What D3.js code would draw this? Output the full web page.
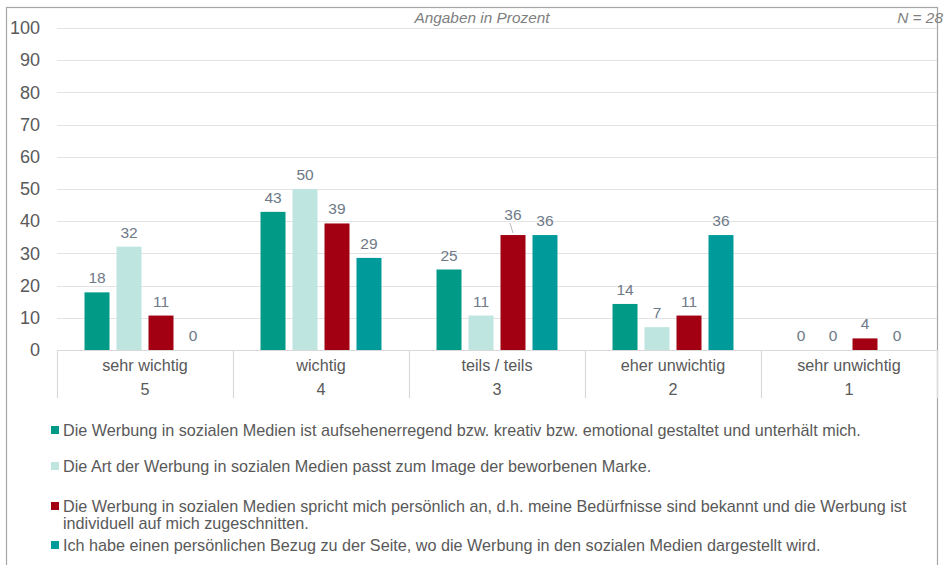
<!DOCTYPE html>
<html>
<head>
<meta charset="utf-8">
<script src="https://cdn.jsdelivr.net/npm/d3@7"></script>
<style>
  body { margin: 0; background: #fff; }
  svg { display: block; font-family: "Liberation Sans", Arial, sans-serif; }
</style>
</head>
<body>
<div id="chart"></div>
<script>
var categories = ['sehr wichtig', 'wichtig', 'teils / teils', 'eher unwichtig', 'sehr unwichtig'];
var scaleNumbers = ['5', '4', '3', '2', '1'];
var seriesNames = [
    'Die Werbung in sozialen Medien ist aufsehenerregend bzw. kreativ bzw. emotional gestaltet und unterhält mich.',
    'Die Art der Werbung in sozialen Medien passt zum Image der beworbenen Marke.',
    'Die Werbung in sozialen Medien spricht mich persönlich an, d.h. meine Bedürfnisse sind bekannt und die Werbung ist|individuell auf mich zugeschnitten.',
    'Ich habe einen persönlichen Bezug zu der Seite, wo die Werbung in den sozialen Medien dargestellt wird.'
];
var seriesA = [17.9, 42.9, 25.0, 14.3, 0];
var seriesB = [32.1, 50.0, 10.7, 7.1, 0];
var seriesC = [10.7, 39.3, 35.7, 10.7, 3.6];
var seriesD = [0, 28.6, 35.7, 35.7, 0];
var yTicks = [0, 10, 20, 30, 40, 50, 60, 70, 80, 90, 100];

var colors = ['#009a87', '#bfe5e1', '#a20012', '#009a9a'];
var allSeries = [seriesA, seriesB, seriesC, seriesD];

var width = 946, height = 565;
var margin = {left: 57, right: 9, top: 28, bottom: 215};
var plotW = width - margin.left - margin.right;
var plotH = height - margin.top - margin.bottom;

var svg = d3.select("#chart").append("svg").attr("width", width).attr("height", height);

// frame
svg.append("rect")
    .attr("x", 6.5).attr("y", 7.5)
    .attr("width", 931).attr("height", 600)
    .attr("fill", "none").attr("stroke", "#a6a6a6").attr("stroke-width", 1.2);

var x0 = d3.scaleBand().domain(categories).range([0, plotW]);
var x1 = d3.scaleBand().domain(d3.range(4)).range([0, x0.bandwidth()])
    .paddingInner(0.219).paddingOuter(0.86);
var y = d3.scaleLinear().domain([0, 100]).range([plotH, 0]);

var g = svg.append("g").attr("transform", "translate(" + margin.left + "," + margin.top + ")");

// gridlines
g.append("g").selectAll("line").data(yTicks.slice(1)).join("line")
    .attr("x1", 0).attr("x2", plotW)
    .attr("y1", function (d) { return Math.round(y(d)) + 0.5; })
    .attr("y2", function (d) { return Math.round(y(d)) + 0.5; })
    .attr("stroke", "#e3e3e3").attr("stroke-width", 1.2);

// y axis labels
var yAxis = d3.axisLeft(y).tickValues(yTicks).tickSize(0).tickPadding(17);
g.append("g").call(yAxis)
    .call(function (s) { s.select(".domain").remove(); })
    .selectAll("text")
    .attr("fill", "#595959").style("font-size", "18px");

// bars
var groups = g.append("g").selectAll("g").data(categories).join("g")
    .attr("transform", function (d) { return "translate(" + x0(d) + ",0)"; });

groups.each(function (cat, ci) {
    var gg = d3.select(this);
    var vals = allSeries.map(function (s) { return s[ci]; });
    gg.selectAll("rect").data(vals).join("rect")
        .attr("x", function (d, i) { return x1(i); })
        .attr("y", function (d) { return y(d); })
        .attr("width", x1.bandwidth())
        .attr("height", function (d) { return plotH - y(d); })
        .attr("fill", function (d, i) { return colors[i]; });
    gg.selectAll("text").data(vals).join("text")
        .attr("x", function (d, i) { return x1(i) + x1.bandwidth() / 2; })
        .attr("y", function (d, i) {
            var shift = (ci === 2 && i === 2) ? 6 : 0;
            return y(d) - 9 - shift;
        })
        .attr("text-anchor", "middle")
        .attr("fill", "#6e7987")
        .style("font-size", "15.5px")
        .text(function (d) { return d3.format(".0f")(d); });
    if (ci === 2) {
        var bx = x1(2) + x1.bandwidth() / 2;
        gg.append("line")
            .attr("x1", bx - 3).attr("y1", y(seriesC[ci]) - 12)
            .attr("x2", bx).attr("y2", y(seriesC[ci]) - 2)
            .attr("stroke", "#a6a6a6").attr("stroke-width", 0.8);
    }
});

// category axis
var xAxis = g.append("g").attr("transform", "translate(0," + plotH + ")");
xAxis.append("line").attr("x1", 0).attr("x2", plotW).attr("y1", 0.5).attr("y2", 0.5)
    .attr("stroke", "#d9d9d9").attr("stroke-width", 1.2);
xAxis.selectAll(".div").data(d3.range(categories.length + 1)).join("line")
    .attr("class", "div")
    .attr("x1", function (i) { return Math.round(i * x0.step()) + 0.5; })
    .attr("x2", function (i) { return Math.round(i * x0.step()) + 0.5; })
    .attr("y1", 0).attr("y2", 48)
    .attr("stroke", "#d9d9d9").attr("stroke-width", 1.2);
xAxis.selectAll(".cat").data(categories).join("text")
    .attr("class", "cat")
    .attr("x", function (d) { return x0(d) + x0.bandwidth() / 2; })
    .attr("y", 21)
    .attr("text-anchor", "middle").attr("fill", "#595959").style("font-size", "16.2px")
    .text(function (d) { return d; });
xAxis.selectAll(".num").data(scaleNumbers).join("text")
    .attr("class", "num")
    .attr("x", function (d, i) { return x0(categories[i]) + x0.bandwidth() / 2; })
    .attr("y", 45)
    .attr("text-anchor", "middle").attr("fill", "#595959").style("font-size", "16.2px")
    .text(function (d) { return d; });

// header texts
svg.append("text").attr("x", 482).attr("y", 23)
    .attr("text-anchor", "middle").attr("fill", "#7f7f7f")
    .style("font-size", "15.4px").style("font-style", "italic")
    .text("Angaben in Prozent");
svg.append("text").attr("x", 943).attr("y", 23)
    .attr("text-anchor", "end").attr("fill", "#7f7f7f")
    .style("font-size", "15.4px").style("font-style", "italic")
    .text("N = 28");

// legend
var legendY = [430, 466, 506, 545];
var legend = svg.append("g").selectAll("g").data(seriesNames).join("g")
    .attr("transform", function (d, i) { return "translate(51," + legendY[i] + ")"; });
legend.append("rect").attr("x", 0).attr("y", -4).attr("width", 8).attr("height", 8)
    .attr("fill", function (d, i) { return colors[i]; });
legend.append("text")
    .attr("x", 12).attr("y", 5.5)
    .attr("fill", "#595959").style("font-size", "16.2px")
    .selectAll("tspan").data(function (d) { return d.split("|"); }).join("tspan")
    .attr("x", 12).attr("dy", function (d, i) { return i === 0 ? 0 : 17; })
    .text(function (d) { return d; });
</script>
</body>
</html>
